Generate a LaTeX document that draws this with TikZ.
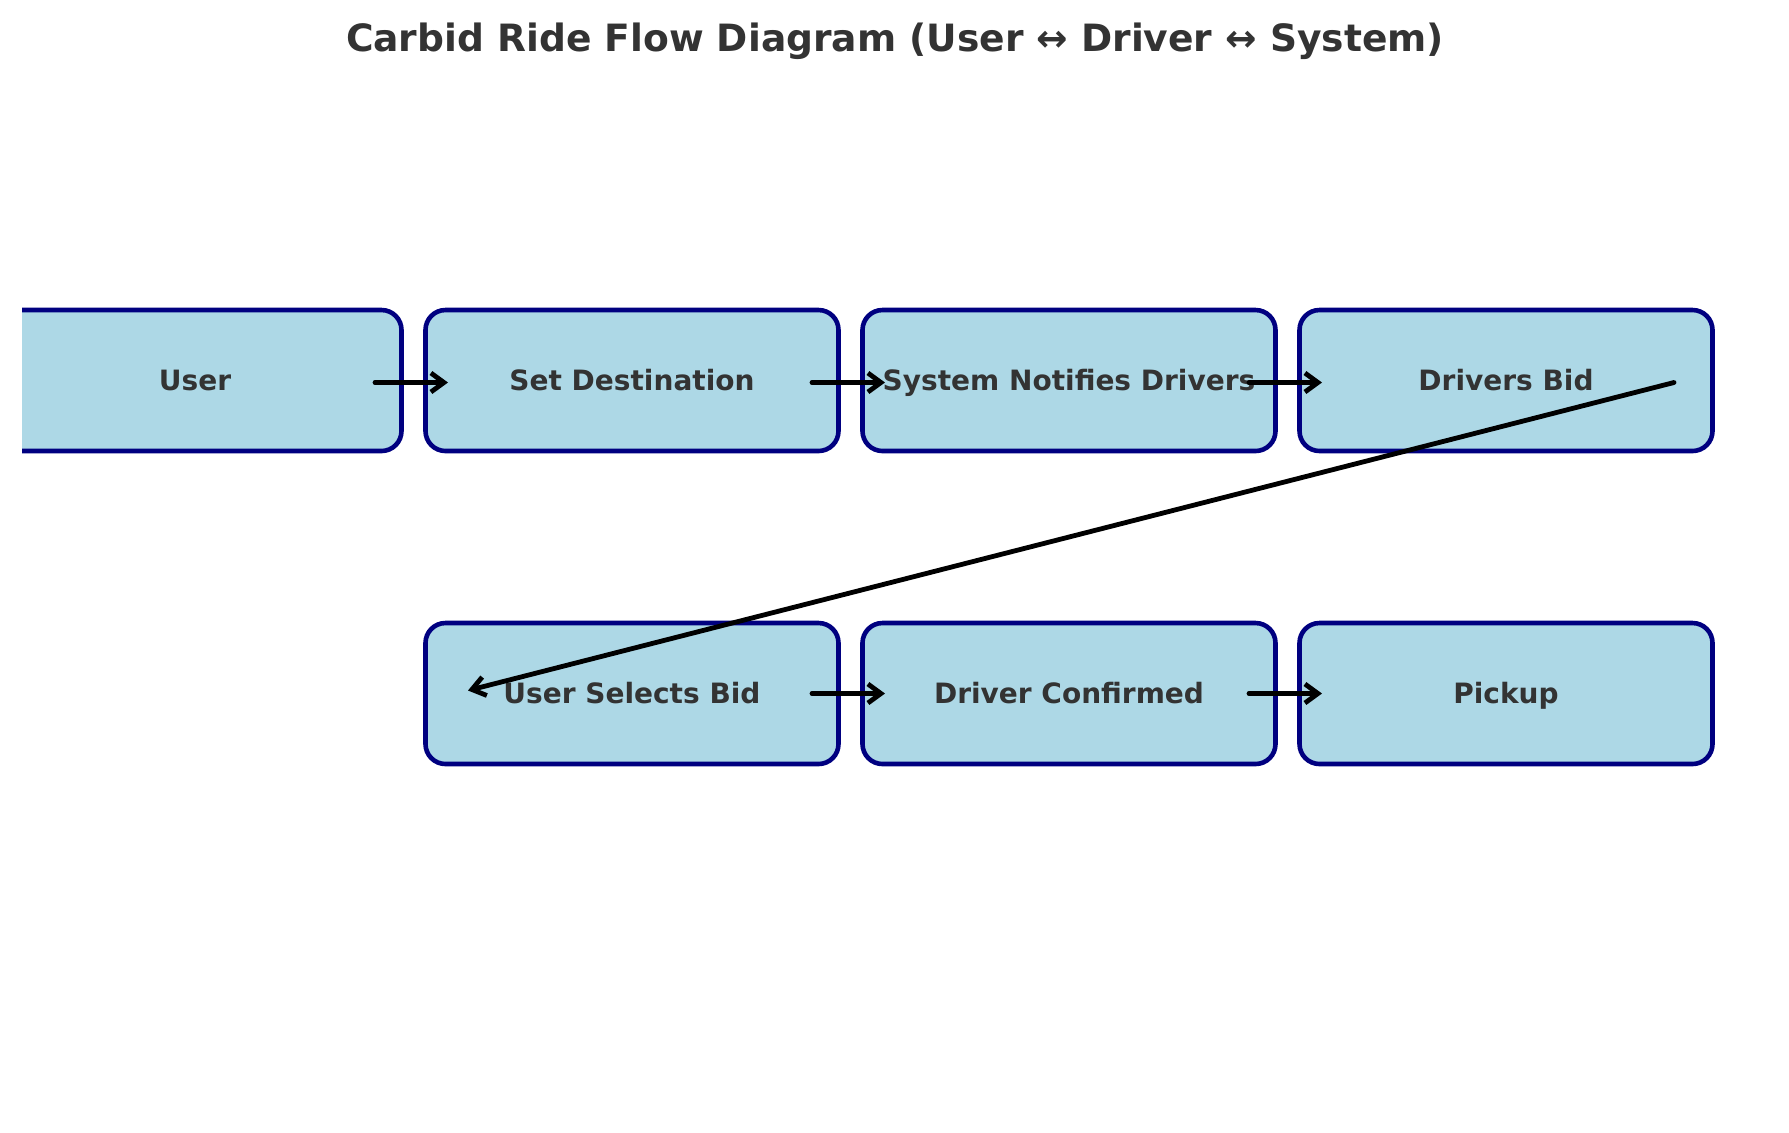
\documentclass[tikz,border=0pt]{standalone}
\usepackage{fontspec}
\setmainfont{DejaVu Sans}
\usetikzlibrary{arrows.meta}
\definecolor{boxfill}{HTML}{ADD8E6}
\definecolor{boxedge}{HTML}{000080}
\definecolor{txt}{HTML}{333333}
\begin{document}
\begin{tikzpicture}[x=0.5pt,y=-0.5pt,
  flowbox/.style={draw=boxedge, fill=boxfill, line width=2.3pt, rounded corners=10pt,
    minimum width=206.5pt, minimum height=70.5pt, inner sep=0pt,
    text height=11.4pt, text depth=1.1pt,
    font=\fontsize{14}{16}\selectfont\bfseries, text=txt},
  flowarrow/.style={-{Straight Barb[length=6.5pt,width=9.5pt,line width=2.4pt]}, line width=2.4pt, black, line cap=round}]
\useasboundingbox (0,0) rectangle (1789,1132);
\node[font=\fontsize{18.8}{22}\selectfont\bfseries, text=txt] (title) at (895,41.5) {Carbid Ride Flow Diagram (User ↔ Driver ↔ System)};
\begin{scope}
\clip (22,0) rectangle (1789,1132);
\node[flowbox] (user) at (195,380.5) {User};
\end{scope}
\node[flowbox] (dest) at (632,380.5) {Set Destination};
\node[flowbox] (notify) at (1069,380.5) {System Notifies Drivers};
\node[flowbox] (bid) at (1506,380.5) {Drivers Bid};
\node[flowbox] (select) at (632,693.5) {User Selects Bid};
\node[flowbox] (confirm) at (1069,693.5) {Driver Confirmed};
\node[flowbox] (pickup) at (1506,693.5) {Pickup};
\draw[flowarrow] ([shift={(180,2)}]user.center) -- ([shift={(-184,2)}]dest.center);
\draw[flowarrow] ([shift={(180,2)}]dest.center) -- ([shift={(-184,2)}]notify.center);
\draw[flowarrow] ([shift={(180,2)}]notify.center) -- ([shift={(-184,2)}]bid.center);
\draw[flowarrow] ([shift={(168,2)}]bid.center) -- ([shift={(-164,-3)}]select.center);
\draw[flowarrow] ([shift={(180,0)}]select.center) -- ([shift={(-184,0)}]confirm.center);
\draw[flowarrow] ([shift={(180,0)}]confirm.center) -- ([shift={(-184,0)}]pickup.center);
\end{tikzpicture}
\end{document}
